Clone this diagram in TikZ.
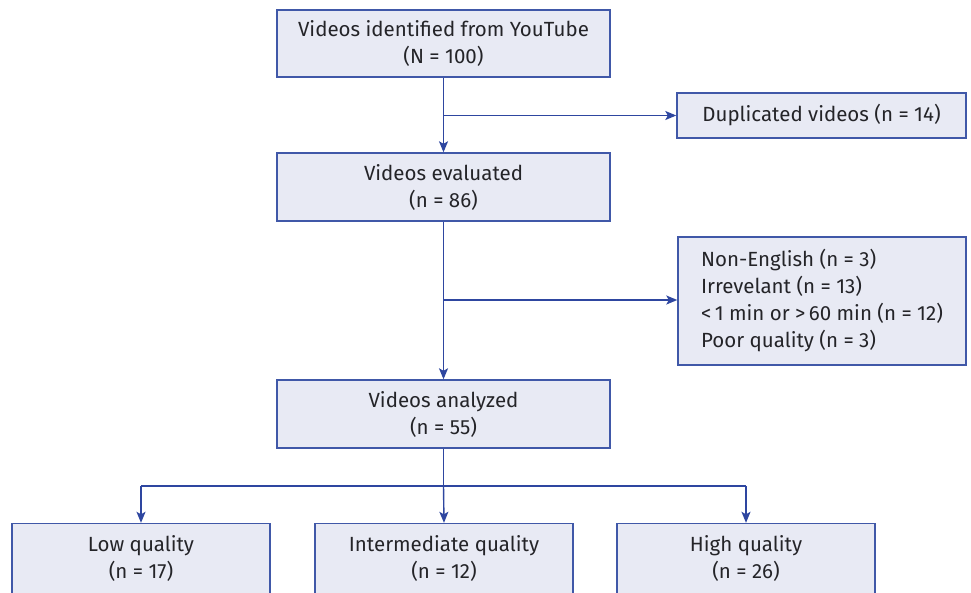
\documentclass[tikz,border=0pt]{standalone}
\usepackage{fontspec}
\setmainfont{Fira Sans}
\usetikzlibrary{arrows.meta}
\definecolor{boxfill}{HTML}{E8EAF4}
\definecolor{boxline}{HTML}{4058A8}
\definecolor{arrowcol}{HTML}{2E46A0}
\definecolor{txt}{HTML}{242428}
\begin{document}
\begin{tikzpicture}[x=1pt,y=-1pt,
  box/.style={draw=boxline,fill=boxfill,line width=1.4pt,rectangle,inner sep=0pt,
    font=\fontsize{20.5}{27}\selectfont,text=txt,align=center},
  conn/.style={draw=arrowcol,line width=1.4pt},
  arr/.style={conn,-{Stealth[length=11pt,width=9pt,inset=2.5pt]}}]
\useasboundingbox (0,0) rectangle (971,592);
\node[box,minimum width=333pt,minimum height=67pt] (id) at (443.5,43.5) {Videos identified from YouTube\\(N = 100)};
\node[box,minimum width=289pt,minimum height=45pt] (dup) at (821.5,115.5) {Duplicated videos (n = 14)};
\node[box,minimum width=333pt,minimum height=68pt] (ev) at (443.5,187) {Videos evaluated\\(n = 86)};
\node[box,minimum width=288pt,minimum height=128pt,align=left] (ex) at (822,301) {Non-English (n = 3)\\Irrevelant (n = 13)\\<\,1 min or >\,60 min (n = 12)\\Poor quality (n = 3)};
\node[box,minimum width=333pt,minimum height=68pt] (an) at (443.5,414) {Videos analyzed\\(n = 55)};
\node[box,minimum width=258pt,minimum height=70pt] (low) at (141,558.5) {Low quality\\(n = 17)};
\node[box,minimum width=258pt,minimum height=70pt] (mid) at (444,558.5) {Intermediate quality\\(n = 12)};
\node[box,minimum width=258pt,minimum height=70pt] (high) at (746,558.5) {High quality\\(n = 26)};
\coordinate (b1) at (443.5,115.5);
\coordinate (b2) at (443.5,300);
\coordinate (s) at (443.5,486);
\coordinate (sl) at (141,486);
\coordinate (sr) at (746,486);
\draw[arr] (id.south) -- (ev.north);
\draw[arr] (b1) -- (dup.west);
\draw[arr] (ev.south) -- (an.north);
\draw[arr] (b2) -- (b2 -| ex.west);
\draw[conn] (an.south) -- (s);
\draw[conn] (sl) -- (sr);
\draw[arr] (s) -- (mid.north);
\draw[arr] (sl) -- (low.north);
\draw[arr] (sr) -- (high.north);
\end{tikzpicture}
\end{document}
